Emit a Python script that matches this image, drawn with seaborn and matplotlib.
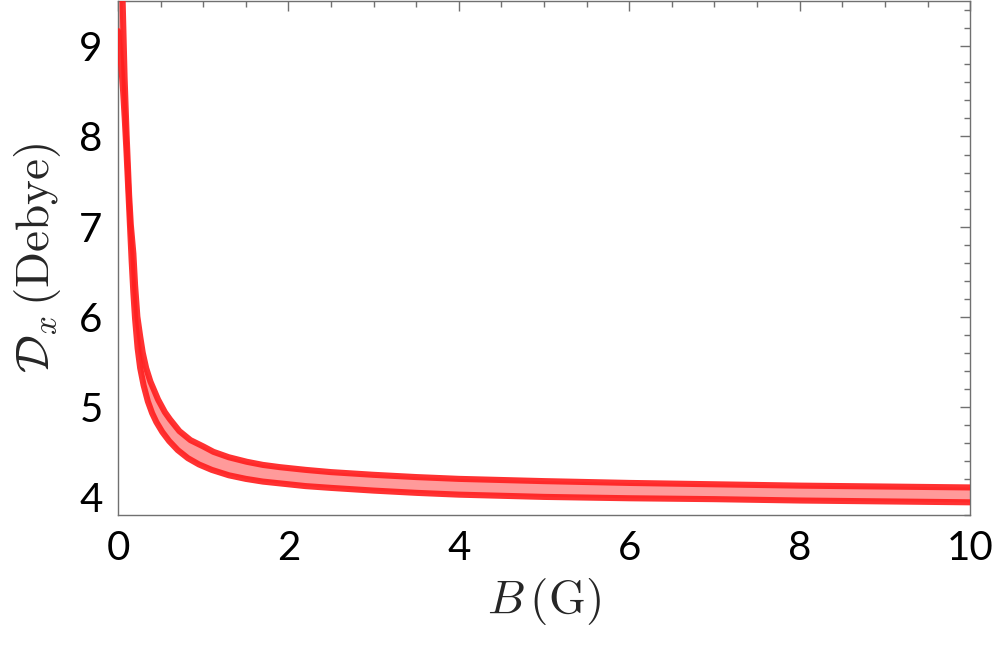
import numpy as np
import pandas as pd
import matplotlib
matplotlib.use("Agg")
import matplotlib.pyplot as plt
from matplotlib.ticker import MultipleLocator
import seaborn as sns

# ---- data ----
upper_B = [0.040, 0.045, 0.054, 0.077, 0.10, 0.13, 0.15, 0.18, 0.20, 0.227, 0.26, 0.29,
           0.33, 0.38, 0.47, 0.55, 0.61, 0.72, 0.85, 1.0, 1.12, 1.3, 1.51, 1.7, 1.9,
           2.2, 2.5, 3.0, 3.5, 4.0, 5.0, 6.0, 7.0, 8.0, 9.0, 10.0]
upper_D = [10.10, 9.85, 9.50, 8.65, 8.03, 7.35, 7.02, 6.70, 6.35, 6.00, 5.78, 5.60,
           5.43, 5.28, 5.08, 4.94, 4.86, 4.73, 4.63, 4.56, 4.50, 4.44, 4.39, 4.355, 4.33,
           4.30, 4.275, 4.245, 4.22, 4.20, 4.175, 4.155, 4.14, 4.125, 4.115, 4.105]

lower_B = [0.0, 0.02, 0.04, 0.06, 0.08, 0.10, 0.12, 0.14, 0.16, 0.18, 0.20, 0.23, 0.26,
           0.30, 0.35, 0.40, 0.45, 0.52, 0.60, 0.70, 0.82, 0.95, 1.1, 1.3, 1.5, 1.7,
           1.9, 2.2, 2.5, 3.0, 3.5, 4.0, 5.0, 6.0, 7.0, 8.0, 9.0, 10.0]
lower_D = [9.17, 8.97, 8.76, 8.50, 8.18, 7.82, 7.42, 7.02, 6.62, 6.27, 5.98, 5.65, 5.43,
           5.24, 5.06, 4.93, 4.83, 4.72, 4.62, 4.52, 4.43, 4.36, 4.30, 4.24, 4.20, 4.17,
           4.15, 4.12, 4.10, 4.07, 4.045, 4.025, 4.00, 3.985, 3.975, 3.96, 3.95, 3.94]

x_ticks = [0, 2, 4, 6, 8, 10]
y_ticks = [4, 5, 6, 7, 8, 9]

# ---- style ----
sns.set_style("white")
plt.rcParams["font.family"] = ["Lato", "DejaVu Sans"]
plt.rcParams["mathtext.fontset"] = "cm"

GRAY = "#707070"
LINE = "#ff2020"
FILL = "#ff9a9a"

fig = plt.figure(figsize=(9.96, 6.61), dpi=100)
ax = fig.add_axes([0.1185, 0.221, 0.8555, 0.777])

# band between the two curves
band_x = list(upper_B) + list(reversed(lower_B))
band_y = list(upper_D) + list(reversed(lower_D))
ax.fill(band_x, band_y, color=FILL, lw=0, zorder=1)

df_u = pd.DataFrame({"B": upper_B, "D": upper_D})
df_l = pd.DataFrame({"B": lower_B, "D": lower_D})
sns.lineplot(data=df_u, x="B", y="D", ax=ax, color=LINE, lw=4.4, alpha=0.92,
             sort=False, estimator=None, zorder=3)
sns.lineplot(data=df_l, x="B", y="D", ax=ax, color=LINE, lw=4.4, alpha=0.92,
             sort=False, estimator=None, zorder=3)

ax.set_xlim(0, 10)
ax.set_ylim(3.8, 9.5)
ax.set_xticks(x_ticks)
ax.set_yticks(y_ticks)
ax.set_xticklabels([str(t) for t in x_ticks])
ax.set_yticklabels([str(t) for t in y_ticks])
ax.xaxis.set_minor_locator(MultipleLocator(0.5))
ax.yaxis.set_minor_locator(MultipleLocator(0.2))

ax.tick_params(which="both", direction="in", top=True, right=True,
               color=GRAY, width=1.0)
ax.tick_params(which="major", length=7, labelsize=29, pad=11, labelcolor="black")
ax.tick_params(which="minor", length=4)
for s in ax.spines.values():
    s.set_color(GRAY)
    s.set_linewidth(1.0)

ax.set_xlabel(r"$B\,(\mathrm{G})$", fontsize=34, labelpad=6)
ax.set_ylabel(r"$\mathcal{D}_x\,(\mathrm{Debye})$", fontsize=34, labelpad=12)

fig.savefig("out.png", dpi=100)
